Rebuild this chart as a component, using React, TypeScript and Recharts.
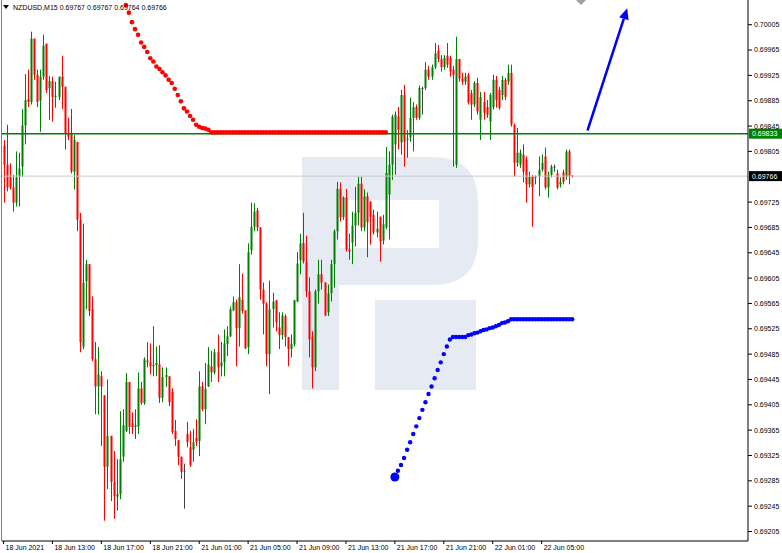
import React from "react"
import { ComposedChart, Bar, Line, XAxis, YAxis, ReferenceLine } from "recharts"

// NZDUSD M15, one value per bar (18 Jun 09:00 .. 22 Jun 08:00)
const opens = [
  0.69814, 0.69784, 0.69765, 0.69748, 0.69724, 0.69765, 0.69781, 0.69846, 0.69888, 0.69883,
  0.69983, 0.69926, 0.69885, 0.69923, 0.69975, 0.69905, 0.69916, 0.69891, 0.69891, 0.69923,
  0.69907, 0.69834, 0.69834, 0.69773, 0.69820, 0.69697, 0.69497, 0.69600, 0.69627, 0.69556,
  0.69477, 0.69434, 0.69450, 0.69420, 0.69307, 0.69356, 0.69283, 0.69260, 0.69264, 0.69323,
  0.69364, 0.69441, 0.69376, 0.69370, 0.69371, 0.69431, 0.69408, 0.69475, 0.69472, 0.69466,
  0.69468, 0.69469, 0.69416, 0.69449, 0.69450, 0.69425, 0.69364, 0.69349, 0.69323, 0.69301,
  0.69359, 0.69338, 0.69334, 0.69353, 0.69348, 0.69434, 0.69398, 0.69434, 0.69466, 0.69456,
  0.69488, 0.69466, 0.69472, 0.69501, 0.69513, 0.69554, 0.69567, 0.69526, 0.69571, 0.69554,
  0.69496, 0.69649, 0.69686, 0.69712, 0.69685, 0.69587, 0.69564, 0.69485, 0.69556, 0.69570,
  0.69527, 0.69515, 0.69545, 0.69512, 0.69493, 0.69501, 0.69568, 0.69633, 0.69660, 0.69631,
  0.69584, 0.69513, 0.69464, 0.69584, 0.69611, 0.69598, 0.69551, 0.69581, 0.69627, 0.69679,
  0.69746, 0.69701, 0.69732, 0.69650, 0.69661, 0.69688, 0.69708, 0.69754, 0.69685, 0.69734,
  0.69726, 0.69705, 0.69677, 0.69702, 0.69664, 0.69685, 0.69737, 0.69784, 0.69816, 0.69860,
  0.69819, 0.69894, 0.69823, 0.69827, 0.69858, 0.69875, 0.69858, 0.69905, 0.69905, 0.69934,
  0.69923, 0.69938, 0.69964, 0.69951, 0.69938, 0.69956, 0.69953, 0.69934, 0.69784, 0.69951,
  0.69920, 0.69915, 0.69926, 0.69897, 0.69879, 0.69913, 0.69855, 0.69883, 0.69875, 0.69852,
  0.69875, 0.69918, 0.69902, 0.69894, 0.69918, 0.69915, 0.69929, 0.69847, 0.69787, 0.69784,
  0.69800, 0.69792, 0.69753, 0.69765, 0.69765, 0.69765, 0.69776, 0.69797, 0.69748, 0.69768,
  0.69781, 0.69770, 0.69753, 0.69772, 0.69765, 0.69805, 0.69767,
]
const highs = [
  0.69823, 0.69847, 0.69786, 0.69768, 0.69805, 0.69803, 0.69872, 0.69927, 0.69934, 0.69994,
  0.69983, 0.69934, 0.69934, 0.69989, 0.69975, 0.69924, 0.69923, 0.69915, 0.69923, 0.69956,
  0.69907, 0.69858, 0.69872, 0.69831, 0.69820, 0.69708, 0.69691, 0.69634, 0.69627, 0.69576,
  0.69504, 0.69496, 0.69458, 0.69420, 0.69445, 0.69356, 0.69332, 0.69319, 0.69395, 0.69398,
  0.69455, 0.69441, 0.69393, 0.69398, 0.69456, 0.69441, 0.69480, 0.69504, 0.69502, 0.69529,
  0.69497, 0.69499, 0.69464, 0.69464, 0.69450, 0.69431, 0.69381, 0.69349, 0.69323, 0.69312,
  0.69378, 0.69364, 0.69367, 0.69382, 0.69458, 0.69441, 0.69471, 0.69496, 0.69490, 0.69493,
  0.69516, 0.69504, 0.69524, 0.69529, 0.69560, 0.69576, 0.69571, 0.69627, 0.69612, 0.69554,
  0.69660, 0.69724, 0.69723, 0.69716, 0.69685, 0.69598, 0.69567, 0.69601, 0.69582, 0.69570,
  0.69551, 0.69551, 0.69548, 0.69512, 0.69516, 0.69571, 0.69646, 0.69675, 0.69708, 0.69672,
  0.69606, 0.69521, 0.69587, 0.69634, 0.69634, 0.69598, 0.69595, 0.69634, 0.69682, 0.69757,
  0.69756, 0.69734, 0.69746, 0.69675, 0.69710, 0.69749, 0.69765, 0.69765, 0.69745, 0.69740,
  0.69726, 0.69713, 0.69710, 0.69702, 0.69705, 0.69812, 0.69805, 0.69863, 0.69868, 0.69875,
  0.69902, 0.69910, 0.69839, 0.69890, 0.69883, 0.69879, 0.69909, 0.69907, 0.69946, 0.69940,
  0.69942, 0.69976, 0.69973, 0.69957, 0.69957, 0.69976, 0.69956, 0.69940, 0.69986, 0.69951,
  0.69929, 0.69929, 0.69929, 0.69902, 0.69916, 0.69921, 0.69899, 0.69899, 0.69886, 0.69897,
  0.69926, 0.69924, 0.69907, 0.69924, 0.69921, 0.69942, 0.69942, 0.69849, 0.69842, 0.69808,
  0.69816, 0.69797, 0.69773, 0.69768, 0.69767, 0.69797, 0.69800, 0.69811, 0.69773, 0.69784,
  0.69784, 0.69776, 0.69764, 0.69776, 0.69808, 0.69808, 0.69767,
]
const lows = [
  0.69724, 0.69742, 0.69745, 0.69710, 0.69718, 0.69718, 0.69765, 0.69816, 0.69875, 0.69879,
  0.69918, 0.69875, 0.69836, 0.69918, 0.69897, 0.69855, 0.69852, 0.69874, 0.69886, 0.69872,
  0.69808, 0.69823, 0.69770, 0.69745, 0.69679, 0.69488, 0.69493, 0.69556, 0.69545, 0.69474,
  0.69390, 0.69390, 0.69340, 0.69222, 0.69272, 0.69253, 0.69225, 0.69238, 0.69256, 0.69315,
  0.69362, 0.69359, 0.69359, 0.69351, 0.69359, 0.69405, 0.69405, 0.69464, 0.69453, 0.69450,
  0.69450, 0.69408, 0.69409, 0.69433, 0.69403, 0.69359, 0.69340, 0.69310, 0.69288, 0.69241,
  0.69338, 0.69307, 0.69315, 0.69340, 0.69324, 0.69395, 0.69375, 0.69433, 0.69441, 0.69453,
  0.69441, 0.69450, 0.69450, 0.69482, 0.69512, 0.69553, 0.69466, 0.69497, 0.69549, 0.69493,
  0.69485, 0.69642, 0.69679, 0.69679, 0.69571, 0.69516, 0.69466, 0.69422, 0.69527, 0.69521,
  0.69493, 0.69508, 0.69497, 0.69466, 0.69480, 0.69497, 0.69567, 0.69611, 0.69628, 0.69575,
  0.69480, 0.69431, 0.69458, 0.69565, 0.69587, 0.69545, 0.69545, 0.69568, 0.69590, 0.69666,
  0.69694, 0.69697, 0.69647, 0.69634, 0.69627, 0.69655, 0.69688, 0.69679, 0.69679, 0.69638,
  0.69658, 0.69674, 0.69669, 0.69631, 0.69658, 0.69682, 0.69666, 0.69760, 0.69768, 0.69808,
  0.69800, 0.69781, 0.69795, 0.69820, 0.69805, 0.69855, 0.69855, 0.69863, 0.69902, 0.69918,
  0.69918, 0.69935, 0.69946, 0.69931, 0.69934, 0.69937, 0.69923, 0.69781, 0.69779, 0.69915,
  0.69910, 0.69910, 0.69879, 0.69855, 0.69875, 0.69863, 0.69823, 0.69855, 0.69858, 0.69823,
  0.69871, 0.69874, 0.69871, 0.69886, 0.69886, 0.69910, 0.69844, 0.69765, 0.69781, 0.69779,
  0.69756, 0.69724, 0.69748, 0.69686, 0.69753, 0.69734, 0.69773, 0.69745, 0.69732, 0.69764,
  0.69773, 0.69745, 0.69748, 0.69753, 0.69760, 0.69753, 0.69764,
]
const closes = [
  0.69784, 0.69748, 0.69748, 0.69724, 0.69764, 0.69778, 0.69846, 0.69886, 0.69883, 0.69983,
  0.69926, 0.69883, 0.69923, 0.69972, 0.69902, 0.69916, 0.69891, 0.69893, 0.69923, 0.69907,
  0.69834, 0.69828, 0.69773, 0.69823, 0.69697, 0.69504, 0.69598, 0.69627, 0.69553, 0.69477,
  0.69434, 0.69453, 0.69434, 0.69307, 0.69356, 0.69283, 0.69261, 0.69264, 0.69319, 0.69373,
  0.69441, 0.69370, 0.69370, 0.69373, 0.69431, 0.69408, 0.69477, 0.69472, 0.69466, 0.69468,
  0.69471, 0.69416, 0.69449, 0.69452, 0.69409, 0.69362, 0.69351, 0.69323, 0.69299, 0.69301,
  0.69346, 0.69310, 0.69346, 0.69346, 0.69434, 0.69398, 0.69430, 0.69469, 0.69456, 0.69488,
  0.69464, 0.69472, 0.69502, 0.69513, 0.69556, 0.69567, 0.69526, 0.69575, 0.69553, 0.69494,
  0.69646, 0.69686, 0.69710, 0.69685, 0.69587, 0.69564, 0.69485, 0.69556, 0.69568, 0.69535,
  0.69515, 0.69546, 0.69512, 0.69493, 0.69501, 0.69570, 0.69628, 0.69660, 0.69631, 0.69584,
  0.69508, 0.69464, 0.69584, 0.69611, 0.69598, 0.69546, 0.69581, 0.69627, 0.69679, 0.69746,
  0.69701, 0.69732, 0.69650, 0.69647, 0.69688, 0.69708, 0.69754, 0.69685, 0.69734, 0.69693,
  0.69702, 0.69677, 0.69683, 0.69663, 0.69690, 0.69771, 0.69784, 0.69860, 0.69863, 0.69839,
  0.69894, 0.69820, 0.69825, 0.69858, 0.69875, 0.69858, 0.69905, 0.69905, 0.69934, 0.69923,
  0.69938, 0.69960, 0.69951, 0.69938, 0.69953, 0.69942, 0.69931, 0.69926, 0.69951, 0.69920,
  0.69915, 0.69923, 0.69882, 0.69879, 0.69913, 0.69868, 0.69891, 0.69866, 0.69863, 0.69894,
  0.69918, 0.69886, 0.69874, 0.69918, 0.69891, 0.69929, 0.69847, 0.69787, 0.69803, 0.69803,
  0.69773, 0.69753, 0.69765, 0.69749, 0.69764, 0.69776, 0.69787, 0.69748, 0.69768, 0.69781,
  0.69781, 0.69748, 0.69757, 0.69757, 0.69805, 0.69765, 0.69766,
]

// red trailing dots, first dot on bar 40
const redStart = 40
const redDots = [
  0.70036, 0.70024, 0.70009, 0.69998, 0.69989, 0.69977, 0.69970, 0.69962, 0.69952, 0.69947,
  0.69939, 0.69935, 0.69930, 0.69925, 0.69918, 0.69913, 0.69904, 0.69894, 0.69884, 0.69873,
  0.69868, 0.69861, 0.69855, 0.69847, 0.69844, 0.69842, 0.69841, 0.69839,
  0.69835, 0.69835, 0.69835, 0.69835, 0.69835, 0.69835, 0.69835, 0.69835, 0.69835, 0.69835,
  0.69835, 0.69835, 0.69835, 0.69835, 0.69835, 0.69835, 0.69835, 0.69835, 0.69835, 0.69835,
  0.69835, 0.69835, 0.69835, 0.69835, 0.69835, 0.69835, 0.69835, 0.69835, 0.69835, 0.69835,
  0.69835, 0.69835, 0.69835, 0.69835, 0.69835, 0.69835, 0.69835, 0.69835, 0.69835, 0.69835,
  0.69835, 0.69835, 0.69835, 0.69835, 0.69835, 0.69835, 0.69835, 0.69835, 0.69835, 0.69835,
  0.69835, 0.69835, 0.69835, 0.69835, 0.69835, 0.69835, 0.69835, 0.69835,
]

// blue trailing dots, first dot on bar 128
const blueStart = 128
const blueDots = [
  0.69291, 0.69301, 0.69310, 0.69321, 0.69334, 0.69346, 0.69359, 0.69371, 0.69384, 0.69397,
  0.69409, 0.69422, 0.69434, 0.69447, 0.69460, 0.69472, 0.69485, 0.69497, 0.69508, 0.69512,
  0.69512, 0.69512, 0.69512, 0.69512, 0.69515, 0.69516, 0.69518, 0.69519, 0.69521, 0.69523,
  0.69524, 0.69526, 0.69527, 0.69529, 0.69531, 0.69534, 0.69535, 0.69537, 0.69540, 0.69540,
  0.69540, 0.69540, 0.69540, 0.69540, 0.69540, 0.69540, 0.69540, 0.69540, 0.69540, 0.69540,
  0.69540, 0.69540, 0.69540, 0.69540, 0.69540, 0.69540, 0.69540, 0.69540, 0.69540,
]

const timeTicks = [0, 16, 32, 48, 64, 80, 96, 112, 128, 144, 160, 176]
const timeLabels = [
  "18 Jun 2021", "18 Jun 13:00", "18 Jun 17:00", "18 Jun 21:00", "21 Jun 01:00", "21 Jun 05:00",
  "21 Jun 09:00", "21 Jun 13:00", "21 Jun 17:00", "21 Jun 21:00", "22 Jun 01:00", "22 Jun 05:00",
]
// the 0.69765 label is hidden behind the bid box in the terminal
const priceTicks = [
  0.69205, 0.69245, 0.69285, 0.69325, 0.69365, 0.69405, 0.69445, 0.69485, 0.69525, 0.69565,
  0.69605, 0.69645, 0.69685, 0.69725, 0.69805, 0.69845, 0.69885, 0.69925, 0.69965, 0.70005,
]
const slots = 244
const levelPrice = 0.69833
const bidPrice = 0.69766
const arrowFrom = { bar: 191, price: 0.69838 }
const arrowTo = { bar: 204, price: 0.70031 }

const FONT = "'Liberation Sans', Arial, sans-serif"

const data = Array.from({ length: slots }, (_, i) => {
  const has = i < opens.length
  return {
    i,
    range: has ? [lows[i], highs[i]] : null,
    o: has ? opens[i] : null,
    h: has ? highs[i] : null,
    l: has ? lows[i] : null,
    c: has ? closes[i] : null,
    red: i >= redStart && i - redStart < redDots.length ? redDots[i - redStart] : null,
    blue: i >= blueStart && i - blueStart < blueDots.length ? blueDots[i - blueStart] : null,
  }
})

function Candle(props: any) {
  const { x, y, width, height, payload } = props
  if (!payload || payload.o == null) return <g />
  const { o, h, l, c } = payload
  const top = Math.min(y, y + height)
  const hgt = Math.abs(height)
  const k = h === l ? 0 : hgt / (h - l)
  const py = (v: number) => top + (h - v) * k
  const cx = Math.round(x + width / 2) + 0.5
  const color = c > o ? "#008000" : c < o ? "#ff0000" : "#404040"
  const b1 = py(Math.max(o, c))
  const b2 = py(Math.min(o, c))
  return (
    <g>
      <line x1={cx} x2={cx} y1={top} y2={top + hgt} stroke={color} strokeWidth={1} />
      <rect x={cx - 1} y={b1} width={2} height={Math.max(b2 - b1, 1)} fill={color} />
    </g>
  )
}

function TimeTick(props: any) {
  const { x, y, payload } = props
  const idx = timeTicks.indexOf(payload.value)
  return (
    <text x={x + 2} y={y} dy="0.71em" fontSize={7} fontFamily={FONT} fill="#000">
      {timeLabels[idx]}
    </text>
  )
}

function PriceTick(props: any) {
  const { x, y, payload } = props
  return (
    <text x={x} y={y} dy="0.35em" fontSize={7} fontFamily={FONT} fill="#000">
      {payload.value.toFixed(5)}
    </text>
  )
}

function BlueDot(props: any) {
  const { cx, cy, index } = props
  if (cy == null || isNaN(cy)) return <g key={index} />
  return <circle key={index} cx={cx} cy={cy} r={index === blueStart ? 4.5 : 2.2} fill="#0000ff" />
}

function RedDot(props: any) {
  const { cx, cy, index } = props
  if (cy == null || isNaN(cy)) return <g key={index} />
  return <circle key={index} cx={cx} cy={cy} r={2.3} fill="#ff0000" />
}

function PriceLine(color: string, boxColor: string, value: number) {
  return (props: any) => {
    const { x1, x2, y1 } = props
    const left = Math.min(x1, x2)
    const right = Math.max(x1, x2)
    return (
      <g>
        <line x1={left} x2={right} y1={y1} y2={y1} stroke={color} strokeWidth={color === "#008000" ? 1.5 : 1} />
        <rect x={right + 1} y={y1 - 5} width={33} height={10} fill={boxColor} />
        <text x={right + 4} y={y1} dy="0.35em" fontSize={7} fontFamily={FONT} fill="#fff">
          {value.toFixed(5)}
        </text>
      </g>
    )
  }
}

function Arrow(props: any) {
  const { x1, y1, x2, y2 } = props
  const ang = Math.atan2(y2 - y1, x2 - x1)
  const len = 11
  const w = 5
  const bx = x2 - len * Math.cos(ang)
  const by = y2 - len * Math.sin(ang)
  const px = -Math.sin(ang) * w
  const py = Math.cos(ang) * w
  return (
    <g>
      <line x1={x1} y1={y1} x2={bx} y2={by} stroke="#0000ff" strokeWidth={2.5} />
      <polygon points={`${x2},${y2} ${bx + px},${by + py} ${bx - px},${by - py}`} fill="#0000ff" />
    </g>
  )
}

function Watermark() {
  const fill = "#e6ebf3"
  return (
    <svg width={782} height={553} style={{ position: "absolute", left: 0, top: 0 }}>
      <rect x={302} y={157} width={37} height={233} fill={fill} />
      <path d="M302 157 H432 Q478 157 478 203 V240 Q478 285 432 285 H302 Z" fill={fill} />
      <rect x={339} y={200} width={100} height={48} fill="#fff" />
      <rect x={375} y={300} width={101} height={90} fill={fill} />
    </svg>
  )
}

export default function App() {
  return (
    <div style={{ position: "absolute", left: 0, top: 0, width: 782, height: 553, background: "#fff" }}>
      <Watermark />
      <div style={{ position: "absolute", left: 0, top: 0 }}>
        <ComposedChart
          width={782}
          height={553}
          data={data}
          margin={{ top: 0, right: 0, left: 2, bottom: 0 }}
          barCategoryGap={0}
        >
          <XAxis
            dataKey="i"
            type="category"
            ticks={timeTicks}
            interval={0}
            height={12}
            tickSize={3}
            tickMargin={1}
            axisLine={{ stroke: "#000" }}
            tickLine={{ stroke: "#000" }}
            tick={<TimeTick />}
          />
          <YAxis
            orientation="right"
            type="number"
            domain={[0.6919, 0.70044]}
            ticks={priceTicks}
            allowDataOverflow
            width={34}
            tickSize={4}
            tickMargin={2}
            axisLine={{ stroke: "#000" }}
            tickLine={{ stroke: "#000" }}
            tick={<PriceTick />}
          />
          <ReferenceLine y={bidPrice} ifOverflow="visible" shape={PriceLine("#c8c8c8", "#000", bidPrice)} />
          <Bar dataKey="range" shape={Candle} isAnimationActive={false} barSize={3} />
          <Line
            dataKey="red"
            stroke="none"
            dot={RedDot}
            activeDot={false}
            isAnimationActive={false}
            connectNulls={false}
          />
          <Line
            dataKey="blue"
            stroke="none"
            dot={BlueDot}
            activeDot={false}
            isAnimationActive={false}
            connectNulls={false}
          />
          <ReferenceLine y={levelPrice} ifOverflow="visible" shape={PriceLine("#008000", "#008000", levelPrice)} />
          <ReferenceLine
            ifOverflow="visible"
            segment={[
              { x: arrowFrom.bar, y: arrowFrom.price },
              { x: arrowTo.bar, y: arrowTo.price },
            ]}
            shape={Arrow}
          />
        </ComposedChart>
      </div>
      <svg width={782} height={553} style={{ position: "absolute", left: 0, top: 0, pointerEvents: "none" }}>
        <line x1={1.5} x2={1.5} y1={0} y2={541} stroke="#808080" />
        <polygon points="576,0 586,0 581,5" fill="#a0a0a0" />
        <polygon points="3,5 9,5 6,9" fill="#000" />
        <text x={13} y={10} fontSize={7} fontFamily={FONT} fill="#000">
          NZDUSD,M15  0.69767 0.69767 0.69764 0.69766
        </text>
      </svg>
    </div>
  )
}
